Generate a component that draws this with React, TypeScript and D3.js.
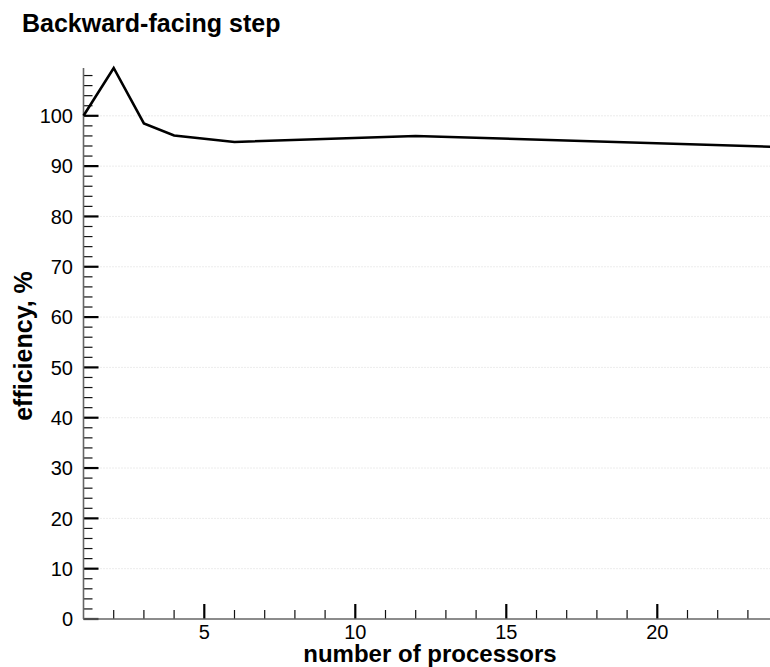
import React, { useEffect, useRef } from 'react';
import * as d3 from 'd3';

// number of processors vs. parallel efficiency
const processors = [1, 2, 3, 4, 6, 12, 24];
const efficiency = [100, 109.5, 98.5, 96.1, 94.8, 96.0, 93.8];
const yMajorTicks = [0, 10, 20, 30, 40, 50, 60, 70, 80, 90, 100];
const xMajorTicks = [5, 10, 15, 20];

const font = 'Helvetica, Arial, "Liberation Sans", sans-serif';

export default function App() {
    const ref = useRef<SVGSVGElement>(null);

    useEffect(() => {
        const width = 770;
        const left = 83.5,
            bottom = 619;

        const svg = d3.select(ref.current);
        svg.selectAll('*').remove();

        // x scale: 1..24, right part runs past the picture edge
        const x = d3.scaleLinear().domain([1, 24]).range([left, left + 23 * 30.2]);
        // y scale
        const y = d3.scaleLinear().domain([0, 109.5]).range([bottom, 68]);

        // title
        svg.append('text')
            .attr('x', 22)
            .attr('y', 32)
            .attr('font-family', font)
            .attr('font-weight', 'bold')
            .attr('font-size', 25)
            .text('Backward-facing step');

        // dotted grid
        svg.append('g')
            .selectAll('line')
            .data(yMajorTicks.slice(1))
            .enter()
            .append('line')
            .attr('x1', left + 2)
            .attr('x2', width)
            .attr('y1', d => y(d))
            .attr('y2', d => y(d))
            .attr('stroke', '#d8d8d8')
            .attr('stroke-width', 1)
            .attr('stroke-dasharray', '1,2');

        // y ticks (minor every 2, major every 10)
        const yMinor = d3.range(0, 110, 2).filter(d => d % 10 !== 0);
        svg.append('g')
            .selectAll('line')
            .data(yMinor)
            .enter()
            .append('line')
            .attr('x1', left)
            .attr('x2', left + 9)
            .attr('y1', d => y(d))
            .attr('y2', d => y(d))
            .attr('stroke', '#111')
            .attr('stroke-width', 1.2);
        svg.append('g')
            .selectAll('line')
            .data(yMajorTicks)
            .enter()
            .append('line')
            .attr('x1', left)
            .attr('x2', left + 15)
            .attr('y1', d => y(d))
            .attr('y2', d => y(d))
            .attr('stroke', '#000')
            .attr('stroke-width', 2.2);
        svg.append('g')
            .selectAll('text')
            .data(yMajorTicks)
            .enter()
            .append('text')
            .attr('x', left - 10.5)
            .attr('y', d => y(d))
            .attr('dy', '0.36em')
            .attr('text-anchor', 'end')
            .attr('font-family', font)
            .attr('font-size', 20)
            .text(d => d);

        // x ticks (minor every 1, major every 5)
        const xMinor = d3.range(2, 25).filter(d => d % 5 !== 0);
        svg.append('g')
            .selectAll('line')
            .data(xMinor)
            .enter()
            .append('line')
            .attr('x1', d => x(d))
            .attr('x2', d => x(d))
            .attr('y1', bottom)
            .attr('y2', bottom - 9)
            .attr('stroke', '#111')
            .attr('stroke-width', 1.2);
        svg.append('g')
            .selectAll('line')
            .data(xMajorTicks)
            .enter()
            .append('line')
            .attr('x1', d => x(d))
            .attr('x2', d => x(d))
            .attr('y1', bottom)
            .attr('y2', bottom - 15)
            .attr('stroke', '#000')
            .attr('stroke-width', 2.2);
        svg.append('g')
            .selectAll('text')
            .data(xMajorTicks)
            .enter()
            .append('text')
            .attr('x', d => x(d))
            .attr('y', 639)
            .attr('text-anchor', 'middle')
            .attr('font-family', font)
            .attr('font-size', 20)
            .text(d => d);

        // axis lines
        svg.append('line')
            .attr('x1', left).attr('x2', left)
            .attr('y1', bottom).attr('y2', y(109.5))
            .attr('stroke', '#666').attr('stroke-width', 1.6);
        svg.append('line')
            .attr('x1', left).attr('x2', width)
            .attr('y1', bottom).attr('y2', bottom)
            .attr('stroke', '#666').attr('stroke-width', 1.6);

        // efficiency curve
        const line = d3.line<number>()
            .x((d, i) => x(processors[i]))
            .y(d => y(d));
        svg.append('path')
            .datum(efficiency)
            .attr('d', line)
            .attr('fill', 'none')
            .attr('stroke', '#000')
            .attr('stroke-width', 2.6)
            .attr('stroke-linejoin', 'miter');

        // axis titles
        svg.append('text')
            .attr('x', 430)
            .attr('y', 662)
            .attr('text-anchor', 'middle')
            .attr('font-family', font)
            .attr('font-weight', 'bold')
            .attr('font-size', 24)
            .text('number of processors');
        svg.append('text')
            .attr('transform', 'translate(32, 346) rotate(-90)')
            .attr('text-anchor', 'middle')
            .attr('font-family', font)
            .attr('font-weight', 'bold')
            .attr('font-size', 25)
            .text('efficiency, %');
    }, []);

    return (
        <div style={{ position: 'absolute', left: 0, top: 0 }}>
            <svg ref={ref} width={770} height={667} style={{ display: 'block', overflow: 'hidden' }} />
        </div>
    );
}
